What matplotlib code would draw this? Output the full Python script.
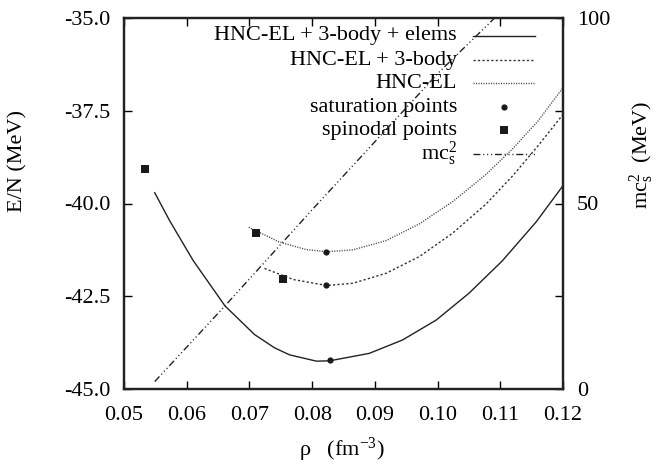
import matplotlib
matplotlib.use("Agg")
import matplotlib.pyplot as plt
from matplotlib.ticker import FormatStrFormatter, FixedLocator

plt.rcParams['font.family'] = ['Liberation Serif', 'DejaVu Serif']
plt.rcParams['mathtext.fontset'] = 'custom'
plt.rcParams['mathtext.rm'] = 'Liberation Serif'
plt.rcParams['mathtext.it'] = 'Liberation Serif:italic'
plt.rcParams['axes.unicode_minus'] = False

# ---- data ----
rho_elems = [0.0549, 0.0573, 0.0610, 0.0661, 0.0708, 0.0740, 0.0764, 0.0807,
             0.0828, 0.0891, 0.0944, 0.0998, 0.1050, 0.1103, 0.1157, 0.1200]
E_elems = [-39.71, -40.47, -41.53, -42.76, -43.53, -43.89, -44.08, -44.25,
           -44.24, -44.04, -43.68, -43.14, -42.42, -41.55, -40.50, -39.52]

rho_3body = [0.0724, 0.0770, 0.0823, 0.0865, 0.0918, 0.0971, 0.1024, 0.1077, 0.1120,
             0.1160, 0.1200]
E_3body = [-41.75, -42.05, -42.21, -42.15, -41.88, -41.43, -40.80, -40.02, -39.25,
           -38.45, -37.60]

rho_hnc = [0.0699, 0.0748, 0.0790, 0.0823, 0.0865, 0.0918, 0.0971, 0.1024, 0.1077,
           0.1120, 0.1160, 0.1200]
E_hnc = [-40.64, -41.04, -41.24, -41.30, -41.25, -41.00, -40.55, -39.95, -39.22,
         -38.52, -37.78, -36.88]

rho_sat = [0.0828, 0.0822, 0.0822]
E_sat = [-44.23, -42.20, -41.30]

rho_spin = [0.0534, 0.0753, 0.0711]
E_spin = [-39.07, -42.03, -40.80]

rho_mc2 = [0.0549, 0.0661, 0.0801, 0.1003, 0.1088, 0.1100]
mc2 = [2.0, 22.4, 48.5, 85.5, 99.5, 101.5]

labels = ["HNC-EL + 3-body + elems", "HNC-EL + 3-body", "HNC-EL",
          "saturation points", "spinodal points", r"$\mathrm{mc}_{\mathrm{s}}^{2}$"]

xticks = [0.05, 0.06, 0.07, 0.08, 0.09, 0.10, 0.11, 0.12]
yticks = [-45.0, -42.5, -40.0, -37.5, -35.0]
y2ticks_major = [0, 50, 100]
y2ticks_minor = [25, 75]

# ---- figure ----
fs = 16
fig = plt.figure(figsize=(6.56, 4.66), dpi=100)
ax = fig.add_axes([124/656, 1-389/466, 439/656, 371/466])
ax2 = ax.twinx()

lw = 1.0
dash_mc2 = (5, 2, 0.8, 2, 0.8, 2, 0.8, 2)
dash_3b = (1.6, 1.6)
dash_hnc = (0.8, 1.0)

ax.plot(rho_elems, E_elems, color='#222222', lw=lw, solid_joinstyle='round')
ax.plot(rho_3body, E_3body, color='#333333', lw=lw, linestyle=(0, dash_3b))
ax.plot(rho_hnc, E_hnc, color='#444444', lw=lw, linestyle=(0, dash_hnc))
ax.plot(rho_sat, E_sat, 'o', color='#1a1a1a', ms=4.5, mew=0, clip_on=False)
ax.plot(rho_spin, E_spin, 's', color='#1a1a1a', ms=5.5, mew=0, clip_on=False)
ax2.plot(rho_mc2, mc2, color='#222222', lw=lw, linestyle=(0, dash_mc2))

ax.set_xlim(0.05, 0.12)
ax.set_ylim(-45, -35)
ax2.set_ylim(0, 100)

ax.set_xticks(xticks)
ax.set_yticks(yticks)
ax.xaxis.set_major_formatter(FormatStrFormatter('%.2f'))
ax.yaxis.set_major_formatter(FormatStrFormatter('%.1f'))
ax2.yaxis.set_major_locator(FixedLocator(y2ticks_major))
ax2.yaxis.set_minor_locator(FixedLocator(y2ticks_minor))
ax2.yaxis.set_major_formatter(FormatStrFormatter('%d'))

ax.tick_params(axis='x', which='both', direction='in', top=True, length=6, width=1,
               labelsize=fs, pad=12)
ax.tick_params(axis='y', which='both', direction='in', right=False, length=6, width=1,
               labelsize=fs, pad=10)
ax2.tick_params(axis='y', which='both', direction='in', length=6, width=1,
                labelsize=fs, pad=10)

for a in (ax, ax2):
    for s in a.spines.values():
        s.set_linewidth(1.6)
        s.set_color('#222222')

ax.set_xlabel(r"ρ   (fm$^{-3}$)", fontsize=fs)
ax.xaxis.set_label_coords(0.497, -0.125)
ax.set_ylabel("E/N (MeV)", fontsize=fs)
ax.yaxis.set_label_coords(-0.219, 0.6146)
ax2.set_ylabel(r"$\mathrm{mc}_{\mathrm{s}}^{2}$  (MeV)", fontsize=fs)
ax2.yaxis.set_label_coords(1.148, 0.63)

# ---- manual legend (gnuplot style: text right-aligned, sample at right) ----
tx = (457 - 124) / 439
sx0 = (473 - 124) / 439
sx1 = (535 - 124) / 439
rows = [(389 - py) / 371 for py in (35.7, 60.3, 83.0, 107.3, 130.0, 154.0)]
styles = [dict(color='#222222', lw=lw),
          dict(color='#333333', lw=lw, linestyle=(0, dash_3b)),
          dict(color='#444444', lw=lw, linestyle=(0, dash_hnc)),
          None, None,
          dict(color='#222222', lw=lw, linestyle=(0, dash_mc2))]
for i, (lab, ry) in enumerate(zip(labels, rows)):
    ax.text(tx, ry, lab, transform=ax.transAxes, ha='right', va='center', fontsize=fs)
    if i == 3:
        ax.plot([(sx0 + sx1) / 2], [ry], 'o', color='#1a1a1a', ms=4.5, mew=0,
                transform=ax.transAxes, clip_on=False)
    elif i == 4:
        ax.plot([(sx0 + sx1) / 2], [ry], 's', color='#1a1a1a', ms=5.5, mew=0,
                transform=ax.transAxes, clip_on=False)
    else:
        ax.plot([sx0, sx1], [ry, ry], transform=ax.transAxes, **styles[i])

fig.savefig("out.png", dpi=100)
